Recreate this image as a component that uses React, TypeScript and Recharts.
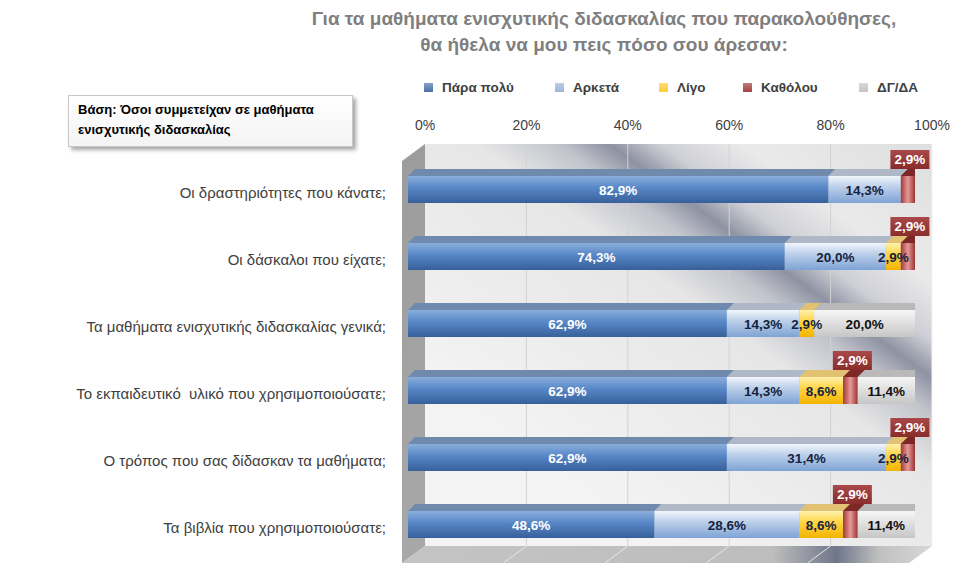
import React from "react";
import {
  BarChart,
  Bar,
  XAxis,
  YAxis,
  Legend,
  LabelList,
  ReferenceArea,
} from "recharts";

const categories = [
  "Οι δραστηριότητες που κάνατε;",
  "Οι δάσκαλοι που είχατε;",
  "Τα μαθήματα ενισχυτικής διδασκαλίας γενικά;",
  "Το εκπαιδευτικό  υλικό που χρησιμοποιούσατε;",
  "Ο τρόπος που σας δίδασκαν τα μαθήματα;",
  "Τα βιβλία που χρησιμοποιούσατε;",
];
const paraPoly = [82.9, 74.3, 62.9, 62.9, 62.9, 48.6];
const arketa = [14.3, 20.0, 14.3, 14.3, 31.4, 28.6];
const ligo = [0, 2.9, 2.9, 8.6, 2.9, 8.6];
const katholou = [2.9, 2.9, 0, 2.9, 2.9, 2.9];
const dgda = [0, 0, 20.0, 11.4, 0, 11.4];
const xTicks = [0, 20, 40, 60, 80, 100];

const FONT = "'Liberation Sans', Arial, sans-serif";
const NARROW = "'Liberation Sans Narrow', 'Liberation Sans', Arial, sans-serif";

const series = [
  { key: "p1", name: "Πάρα πολύ", grad: "gBlue", top: "#6f8aad", side: "#3d5f8f", label: "#ffffff", icon: "#4a72a8", w: 131 },
  { key: "p2", name: "Αρκετά", grad: "gLight", top: "#aeb8c6", side: "#7b97bf", label: "#14233d", icon: "#9db5d8", w: 104 },
  { key: "p3", name: "Λίγο", grad: "gYellow", top: "#e2c272", side: "#d9a000", label: "#14233d", icon: "#ffcc33", w: 84 },
  { key: "p4", name: "Καθόλου", grad: "gRed", top: "#7c2826", side: "#5e1a19", label: "#ffffff", icon: "#a0403e", w: 116 },
  { key: "p5", name: "ΔΓ/ΔΑ", grad: "gGray", top: "#b9b9b9", side: "#7a7a7a", label: "#111111", icon: "#c4c4c4", w: 70 },
];

const data = categories.map((name, i) => ({
  name,
  p1: paraPoly[i],
  p2: arketa[i],
  p3: ligo[i],
  p4: katholou[i],
  p5: dgda[i],
}));

const fmt = (v: number) => v.toFixed(1).replace(".", ",") + "%";

const DEPTH = 7;

const Bar3D = (props: any) => {
  const { x, y, width, height, grad, top, side } = props;
  if (!width || width < 0.5) return <g />;
  const d = DEPTH;
  return (
    <g>
      <polygon
        points={`${x + width},${y} ${x + width + d},${y - d} ${x + width + d},${y + height - d} ${x + width},${y + height}`}
        fill={side}
      />
      <polygon
        points={`${x},${y} ${x + d},${y - d} ${x + width + d},${y - d} ${x + width},${y}`}
        fill={top}
      />
      <rect x={x} y={y} width={width} height={height} fill={`url(#${grad})`} />
    </g>
  );
};

const Walls = (props: any) => {
  const { x, y, width, height } = props;
  const bx = x + 17;
  const by = y - 12;
  const fx = x - 6;
  const fy = y + 5;
  return (
    <g>
      <rect x={bx} y={by} width={width} height={height} fill="url(#gWall)" />
      <polygon
        points={`${fx},${fy} ${bx},${by} ${bx},${by + height} ${fx},${fy + height}`}
        fill="url(#gLeftWall)"
      />
      <polygon
        points={`${fx},${fy + height} ${bx},${by + height} ${bx + width},${by + height} ${fx + width},${fy + height}`}
        fill="url(#gFloor)"
      />
      {xTicks.slice(1, -1).map((t) => (
        <g key={t}>
          <line
            x1={bx + (width * t) / 100}
            x2={bx + (width * t) / 100}
            y1={by}
            y2={by + height}
            stroke="#d2d2d2"
            strokeWidth={1}
          />
          <line
            x1={bx + (width * t) / 100}
            x2={fx + (width * t) / 100}
            y1={by + height}
            y2={fy + height}
            stroke="#e6e6e6"
            strokeWidth={1}
          />
        </g>
      ))}
      <line x1={bx + width} x2={bx + width} y1={by} y2={by + height} stroke="#f4f4f4" />
    </g>
  );
};

const TopTick = (props: any) => {
  const { x, y, payload } = props;
  return (
    <text x={x + 17} y={y - 26} textAnchor="middle" fill="#404040" fontSize={14} fontFamily={FONT}>
      {payload.value}%
    </text>
  );
};

const CatTick = (props: any) => {
  const { x, y, payload } = props;
  return (
    <text
      x={x}
      y={y + 8}
      textAnchor="end"
      fill="#404040"
      fontSize={15}
      fontFamily={FONT}
      style={{ whiteSpace: "pre" }}
    >
      {payload.value}
    </text>
  );
};

const makeLabel = (color: string) => (p: any) => {
  const { x, y, width, height, value } = p;
  if (!value) return null;
  return (
    <text
      x={x + width / 2}
      y={y + height / 2 + 5}
      textAnchor="middle"
      fill={color}
      fontSize={13.5}
      fontWeight="bold"
      fontFamily={FONT}
    >
      {fmt(value)}
    </text>
  );
};

const BoxLabel = (p: any) => {
  const { x, y, width, value } = p;
  if (!value) return null;
  const cx = x + width / 2 + 2;
  const by = y - DEPTH - 19;
  return (
    <g>
      <rect x={cx - 19.5} y={by} width={39} height={19} fill="url(#gRedBox)" />
      <text
        x={cx}
        y={by + 14}
        textAnchor="middle"
        fill="#ffffff"
        fontSize={13.5}
        fontWeight="bold"
        fontFamily={FONT}
      >
        {fmt(value)}
      </text>
    </g>
  );
};

const LegendContent = () => (
  <div style={{ display: "flex", fontFamily: FONT, fontSize: 13.5, fontWeight: "bold", color: "#404040" }}>
    {series.map((s) => (
      <div key={s.key} style={{ display: "flex", alignItems: "center", width: s.w, flex: "none" }}>
        <span
          style={{
            display: "inline-block",
            width: 9,
            height: 9,
            marginRight: 9,
            background: `linear-gradient(180deg, #ffffff55, ${s.icon})`,
            backgroundColor: s.icon,
          }}
        />
        <span style={{ whiteSpace: "nowrap" }}>{s.name}</span>
      </div>
    ))}
  </div>
);

export default function App() {
  return (
    <div style={{ position: "absolute", left: 0, top: 0, width: 967, height: 574, background: "#ffffff" }}>
      <div
        style={{
          position: "absolute",
          left: 304,
          top: 6,
          width: 600,
          textAlign: "center",
          fontFamily: NARROW,
          fontWeight: "bold",
          fontSize: 19,
          lineHeight: "26px",
          color: "#7f7f7f",
          zIndex: 2,
        }}
      >
        Για τα μαθήματα ενισχυτικής διδασκαλίας που παρακολούθησες,
        <br />
        θα ήθελα να μου πεις πόσο σου άρεσαν:
      </div>
      <div
        style={{
          position: "absolute",
          left: 68,
          top: 95,
          width: 274,
          height: 42,
          padding: "4px 0 4px 9px",
          border: "1px solid #c8c8c8",
          background: "linear-gradient(180deg, #ffffff, #f4f4f4)",
          boxShadow: "3px 3px 4px rgba(0,0,0,0.35)",
          fontFamily: FONT,
          fontWeight: "bold",
          fontSize: 13,
          lineHeight: "20px",
          color: "#000000",
          zIndex: 2,
        }}
      >
        Βάση: Όσοι συμμετείχαν σε μαθήματα
        <br />
        ενισχυτικής διδασκαλίας
      </div>
      <BarChart
        width={967}
        height={574}
        data={data}
        layout="vertical"
        margin={{ top: 126, right: 52, bottom: 16, left: 0 }}
        barSize={27}
      >
        <defs>
          <linearGradient id="gBlue" x1="0" y1="0" x2="0" y2="1">
            <stop offset="0%" stopColor="#8aaedc" />
            <stop offset="45%" stopColor="#5786c6" />
            <stop offset="100%" stopColor="#37609a" />
          </linearGradient>
          <linearGradient id="gLight" x1="0" y1="0" x2="0" y2="1">
            <stop offset="0%" stopColor="#f2f6fb" />
            <stop offset="40%" stopColor="#bcd0ea" />
            <stop offset="100%" stopColor="#7ea3d5" />
          </linearGradient>
          <linearGradient id="gYellow" x1="0" y1="0" x2="0" y2="1">
            <stop offset="0%" stopColor="#fff2b0" />
            <stop offset="40%" stopColor="#ffd548" />
            <stop offset="100%" stopColor="#f3b400" />
          </linearGradient>
          <linearGradient id="gRed" x1="0" y1="0" x2="1" y2="0">
            <stop offset="0%" stopColor="#a03a38" />
            <stop offset="50%" stopColor="#e59a98" />
            <stop offset="100%" stopColor="#9a3432" />
          </linearGradient>
          <linearGradient id="gGray" x1="0" y1="0" x2="0" y2="1">
            <stop offset="0%" stopColor="#f6f6f6" />
            <stop offset="100%" stopColor="#c6c6c6" />
          </linearGradient>
          <linearGradient id="gRedBox" x1="0" y1="0" x2="0" y2="1">
            <stop offset="0%" stopColor="#a9494a" />
            <stop offset="100%" stopColor="#8a2c2b" />
          </linearGradient>
          <linearGradient id="gWall" gradientUnits="userSpaceOnUse" x1="584" y1="489" x2="936" y2="3">
            <stop offset="0%" stopColor="#f3f3f3" />
            <stop offset="36%" stopColor="#e6e6e6" />
            <stop offset="44%" stopColor="#c2c4cc" />
            <stop offset="49%" stopColor="#8e92a2" />
            <stop offset="54%" stopColor="#cfd0d6" />
            <stop offset="62%" stopColor="#eaeaea" />
            <stop offset="80%" stopColor="#dedede" />
            <stop offset="100%" stopColor="#eeeeee" />
          </linearGradient>
          <linearGradient id="gLeftWall" x1="0" y1="0" x2="0" y2="1">
            <stop offset="0%" stopColor="#9c9c9c" />
            <stop offset="100%" stopColor="#a8a8a8" />
          </linearGradient>
          <linearGradient id="gFloor" x1="0" y1="0" x2="1" y2="0">
            <stop offset="0%" stopColor="#c4c4c4" />
            <stop offset="70%" stopColor="#bdbdbd" />
            <stop offset="82%" stopColor="#70768a" />
            <stop offset="90%" stopColor="#c0c0c0" />
            <stop offset="100%" stopColor="#d8d8d8" />
          </linearGradient>
        </defs>
        <ReferenceArea x1={0} x2={100} shape={(p: any) => <Walls {...p} />} ifOverflow="visible" />
        <XAxis
          type="number"
          orientation="top"
          domain={[0, 100]}
          allowDataOverflow
          ticks={xTicks}
          height={30}
          axisLine={false}
          tickLine={false}
          tickSize={0}
          tickMargin={0}
          tick={<TopTick />}
          interval={0}
        />
        <YAxis
          type="category"
          dataKey="name"
          width={408}
          axisLine={false}
          tickLine={false}
          tickSize={0}
          tickMargin={22}
          tick={<CatTick />}
          interval={0}
        />
        <Legend
          content={<LegendContent />}
          layout="horizontal"
          verticalAlign="middle"
          align="center"
          wrapperStyle={{ position: "absolute", top: 80, left: 424, width: 540, height: 20 }}
        />
        {series.map((s) => (
          <Bar
            key={s.key}
            dataKey={s.key}
            name={s.name}
            stackId="a"
            fill={s.icon}
            isAnimationActive={false}
            shape={(p: any) => <Bar3D {...p} grad={s.grad} top={s.top} side={s.side} />}
          >
            <LabelList dataKey={s.key} content={s.key === "p4" ? BoxLabel : makeLabel(s.label)} />
          </Bar>
        ))}
      </BarChart>
    </div>
  );
}
